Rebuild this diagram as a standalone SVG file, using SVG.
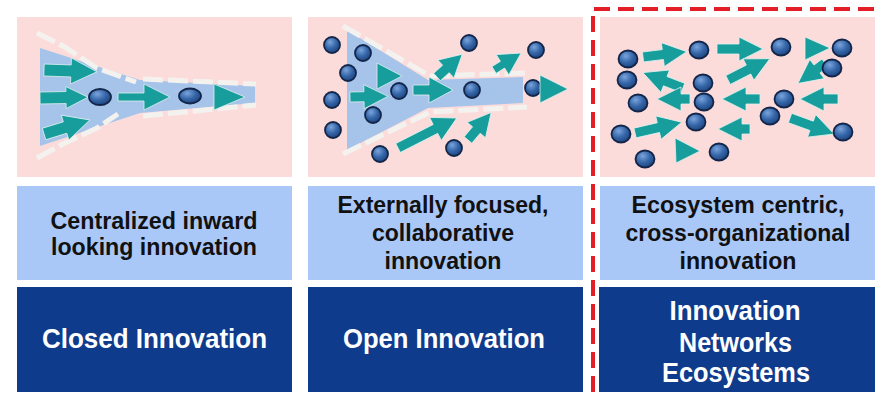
<svg xmlns="http://www.w3.org/2000/svg" width="885" height="395" viewBox="0 0 885 395">
<defs>
<radialGradient id="ball" cx="38%" cy="32%" r="70%">
<stop offset="0" stop-color="#7aa4dc"/>
<stop offset="0.55" stop-color="#3566a8"/>
<stop offset="1" stop-color="#1e4580"/>
</radialGradient>
</defs>
<style>
.pink{fill:#fcdcdb}
.light{fill:#aac8f7}
.dark{fill:#0f3b8d}
.funnel{fill:#a6c3ea}
.edge{fill:none;stroke:#f4f2ee;stroke-width:5;stroke-dasharray:20 5;stroke-linecap:butt}
.ar{fill:#179e9c;stroke:#dff0ee;stroke-width:0.8;stroke-linejoin:miter}
.b{fill:url(#ball);stroke:#13264a;stroke-width:1.8}
.t1{font-family:"Liberation Sans",Arial,sans-serif;font-weight:bold;font-size:24px;fill:#111;text-anchor:middle}
.t2{font-family:"Liberation Sans",Arial,sans-serif;font-weight:bold;font-size:27px;fill:#fff;text-anchor:middle}
.div{fill:none;stroke:#e41e26;stroke-width:4;stroke-dasharray:16 8}
</style>
<rect width="885" height="395" fill="#fff"/>

<g id="closed-picture">
<rect class="pink" x="17" y="17" width="275" height="160"/>
<path class="funnel" d="M40,48 L140,80 L255,86 L255,103 L140,113 L40,146 Z"/>
<path class="edge" d="M37,33 L63,46 L97,68 L136,82 M143,79 L256,84"/>
<path class="edge" d="M37,158 L63,144 L97,128 L118,114 M143,116 L256,105"/>
<path class="ar" transform="translate(44 70) rotate(2)" d="M0,-6H27V-13L53,0L27,13V6H0Z"/>
<path class="ar" transform="translate(40 98) rotate(-1)" d="M0,-6H26V-11L48,0L26,11V6H0Z"/>
<path class="ar" transform="translate(44 134) rotate(-17)" d="M0,-6H22V-13L48,0L22,13V6H0Z"/>
<path class="ar" transform="translate(118 97)" d="M0,-4H26V-13L52,0L26,13V4H0Z"/>
<path class="ar" d="M214,84 L245,97 L214,110 Z"/>
<ellipse class="b" cx="100" cy="97" rx="11" ry="8"/>
<ellipse class="b" cx="190" cy="96" rx="11" ry="7.5"/>
</g>

<g id="open-picture">
<rect class="pink" x="308" y="17" width="275" height="160"/>
<path class="funnel" d="M347,30 L428,80 L523,77 L523,103 L428,108 L347,150 Z"/>
<path class="edge" d="M343,26 L430,76 L527,73"/>
<path class="edge" d="M343,154 L430,112 L527,107"/>
<circle class="b" cx="332" cy="45" r="8"/>
<circle class="b" cx="363" cy="53" r="8"/>
<circle class="b" cx="348" cy="73" r="8"/>
<circle class="b" cx="332" cy="100" r="8"/>
<circle class="b" cx="399" cy="91" r="8"/>
<circle class="b" cx="373" cy="115" r="8"/>
<circle class="b" cx="333" cy="130" r="8"/>
<circle class="b" cx="380" cy="154" r="8"/>
<circle class="b" cx="469" cy="43" r="8"/>
<circle class="b" cx="472" cy="90" r="8"/>
<circle class="b" cx="536" cy="50" r="8"/>
<circle class="b" cx="533" cy="88" r="8"/>
<circle class="b" cx="454" cy="148" r="8"/>
<path class="ar" transform="translate(350 97) rotate(-1)" d="M0,-5H14V-12L38,0L14,12V5H0Z"/>
<path class="ar" d="M377,63 L402,76 L377,89 Z"/>
<path class="ar" transform="translate(413 90)" d="M0,-5H16V-13L40,0L16,13V5H0Z"/>
<path class="ar" transform="translate(437 77) rotate(-42)" d="M0,-5H12V-12L34,0L12,12V5H0Z"/>
<path class="ar" transform="translate(494 70) rotate(-32)" d="M0,-4H10V-12L32,0L10,12V4H0Z"/>
<path class="ar" d="M540,75 L568,89 L540,103 Z"/>
<path class="ar" transform="translate(398 148) rotate(-27)" d="M0,-5H42V-13L66,0L42,13V5H0Z"/>
<path class="ar" transform="translate(468 140) rotate(-50)" d="M0,-5H13V-12L36,0L13,12V5H0Z"/>
</g>

<g id="network-picture">
<rect class="pink" x="600" y="17" width="275" height="160"/>
<path class="ar" transform="translate(643 57) rotate(-7)" d="M0,-5H20V-12L44,0L20,12V5H0Z"/>
<path class="ar" transform="translate(717 49)" d="M0,-5H22V-12L46,0L22,12V5H0Z"/>
<path class="ar" d="M805,37 L830,48 L805,60 Z"/>
<path class="ar" transform="translate(728 80) rotate(-27)" d="M0,-5H23V-12L47,0L23,12V5H0Z"/>
<path class="ar" transform="translate(683 88) rotate(-159)" d="M0,-5H19V-12L43,0L19,12V5H0Z"/>
<path class="ar" transform="translate(825 63) rotate(143)" d="M0,-5H10V-12L34,0L10,12V5H0Z"/>
<path class="ar" transform="translate(690 99) rotate(180)" d="M0,-5H9V-12L33,0L9,12V5H0Z"/>
<path class="ar" transform="translate(760 99) rotate(180)" d="M0,-5H14V-12L38,0L14,12V5H0Z"/>
<path class="ar" transform="translate(838 99) rotate(180)" d="M0,-5H14V-12L38,0L14,12V5H0Z"/>
<path class="ar" transform="translate(635 133) rotate(-13)" d="M0,-5H24V-12L48,0L24,12V5H0Z"/>
<path class="ar" transform="translate(750 129) rotate(180)" d="M0,-5H8V-12L32,0L8,12V5H0Z"/>
<path class="ar" transform="translate(790 118) rotate(20)" d="M0,-5H23V-12L47,0L23,12V5H0Z"/>
<path class="ar" d="M675,138 L700,151 L676,163 Z"/>
<ellipse class="b" cx="628" cy="59" rx="9.5" ry="8.5"/>
<ellipse class="b" cx="699" cy="50" rx="9.5" ry="8.5"/>
<ellipse class="b" cx="781" cy="47" rx="9.5" ry="8.5"/>
<ellipse class="b" cx="842" cy="48" rx="9.5" ry="8.5"/>
<ellipse class="b" cx="832" cy="68" rx="9.5" ry="8.5"/>
<ellipse class="b" cx="627" cy="80" rx="9.5" ry="8.5"/>
<ellipse class="b" cx="703" cy="83" rx="9.5" ry="8.5"/>
<ellipse class="b" cx="638" cy="103" rx="9.5" ry="8.5"/>
<ellipse class="b" cx="704" cy="102" rx="9.5" ry="8.5"/>
<ellipse class="b" cx="784" cy="99" rx="9.5" ry="8.5"/>
<ellipse class="b" cx="770" cy="116" rx="9.5" ry="8.5"/>
<ellipse class="b" cx="696" cy="122" rx="9.5" ry="8.5"/>
<ellipse class="b" cx="621" cy="134" rx="9.5" ry="8.5"/>
<ellipse class="b" cx="843" cy="132" rx="9.5" ry="8.5"/>
<ellipse class="b" cx="645" cy="159" rx="9.5" ry="8.5"/>
<ellipse class="b" cx="719" cy="152" rx="9.5" ry="8.5"/>
</g>

<g id="closed-description">
<rect class="light" x="17" y="186" width="275" height="94"/>
<text class="t1" x="154" y="229" textLength="207" lengthAdjust="spacingAndGlyphs">Centralized inward</text>
<text class="t1" x="154" y="255" textLength="206" lengthAdjust="spacingAndGlyphs">looking innovation</text>
</g>
<g id="open-description">
<rect class="light" x="308" y="186" width="275" height="94"/>
<text class="t1" x="443" y="213" textLength="211" lengthAdjust="spacingAndGlyphs">Externally focused,</text>
<text class="t1" x="443" y="241" textLength="142" lengthAdjust="spacingAndGlyphs">collaborative</text>
<text class="t1" x="443" y="269" textLength="117" lengthAdjust="spacingAndGlyphs">innovation</text>
</g>
<g id="network-description">
<rect class="light" x="600" y="186" width="275" height="94"/>
<text class="t1" x="738" y="213" textLength="213" lengthAdjust="spacingAndGlyphs">Ecosystem centric,</text>
<text class="t1" x="738" y="241" textLength="225" lengthAdjust="spacingAndGlyphs">cross-organizational</text>
<text class="t1" x="738" y="269" textLength="117" lengthAdjust="spacingAndGlyphs">innovation</text>
</g>

<g id="closed-label">
<rect class="dark" x="17" y="287" width="275" height="105"/>
<text class="t2" x="154.5" y="348" textLength="225" lengthAdjust="spacingAndGlyphs">Closed Innovation</text>
</g>
<g id="open-label">
<rect class="dark" x="308" y="287" width="275" height="105"/>
<text class="t2" x="444" y="348" textLength="202" lengthAdjust="spacingAndGlyphs">Open Innovation</text>
</g>
<g id="network-label">
<rect class="dark" x="599" y="287" width="276" height="105"/>
<text class="t2" x="735" y="320" textLength="131" lengthAdjust="spacingAndGlyphs">Innovation</text>
<text class="t2" x="735.5" y="352" textLength="113" lengthAdjust="spacingAndGlyphs">Networks</text>
<text class="t2" x="736" y="382" textLength="148" lengthAdjust="spacingAndGlyphs">Ecosystems</text>
</g>

<g id="connectors">
<path class="div" d="M593,392 V9 H882"/>
</g>
</svg>
